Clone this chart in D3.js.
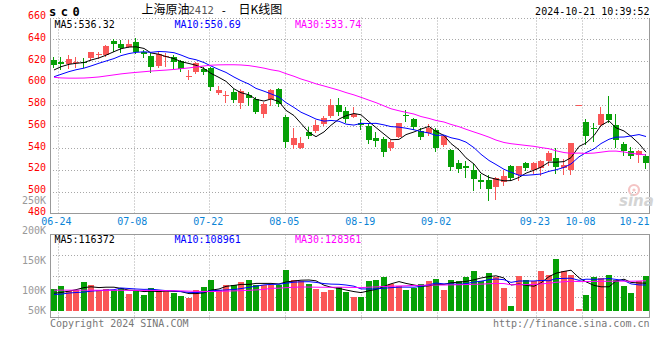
<!DOCTYPE html>
<html><head><meta charset="utf-8">
<script src="https://cdn.jsdelivr.net/npm/d3@7"></script>
<style>body{margin:0;background:#fff}svg{display:block}</style>
</head><body><svg id="c" width="660" height="360"></svg>
<script>
// ---- data ----
const dates = ["06-21","06-24","06-25","06-26","06-27","06-28","07-01","07-02","07-03","07-04","07-05",
"07-08","07-09","07-10","07-11","07-12","07-15","07-16","07-17","07-18","07-19",
"07-22","07-23","07-24","07-25","07-26","07-29","07-30","07-31","08-01","08-02",
"08-05","08-06","08-07","08-08","08-09","08-12","08-13","08-14","08-15","08-16",
"08-19","08-20","08-21","08-22","08-23","08-26","08-27","08-28","08-29","08-30",
"09-02","09-03","09-04","09-05","09-06","09-09","09-10","09-11","09-12","09-13",
"09-18","09-19","09-20","09-23","09-24","09-25","09-26","09-27","09-30",
"10-08","10-09","10-10","10-11","10-14","10-15","10-16","10-17","10-18","10-21"];
const openP = [621.2,619.4,617.0,619.0,619.0,623.1,626.2,625.6,638.7,635.7,
 633.2,637.2,628.6,624.9,615.5,624.5,623.7,620.0,606.0,610.2,
 612.5,613.9,591.0,588.0,591.9,581.8,588.8,585.0,571.0,584.9,
 594.0,568.3,542.9,540.3,555.1,555.8,562.0,569.2,579.2,574.4,
 568.9,563.0,560.4,549.2,548.1,539.9,550.5,570.2,566.5,556.0,
 553.7,556.7,543.2,538.3,526.6,523.6,520.0,511.2,511.1,504.3,
 509.2,523.7,515.0,526.3,519.9,522.0,528.4,531.2,521.5,520.0,
 579.2,564.3,558.1,561.3,571.4,561.3,543.8,537.7,533.7,533.1];
const highP = [624.0,623.4,625.6,623.4,623.0,628.6,628.6,634.7,640.0,639.3,
 639.3,641.0,630.0,627.1,628.6,627.0,625.6,621.0,611.8,619.4,
 614.8,614.8,597.3,592.6,594.1,594.2,591.5,586.8,582.7,594.6,
 595.0,570.5,558.2,550.5,559.5,565.9,569.8,585.0,585.8,578.1,
 577.8,566.7,562.8,554.6,550.5,547.5,563.4,574.7,567.4,558.2,
 561.8,558.2,552.5,539.0,529.1,528.5,525.2,516.3,515.4,513.8,
 519.6,525.0,523.7,527.6,527.6,529.5,537.1,540.0,530.5,545.0,
 579.4,566.5,563.1,578.1,588.3,571.4,546.0,541.3,538.3,534.4];
const lowP = [614.3,612.4,614.0,614.8,615.0,621.0,622.5,625.0,629.5,628.0,
 633.0,627.0,624.0,610.0,614.8,615.7,614.0,611.0,603.5,609.3,
 607.8,593.4,590.0,582.3,582.0,577.2,579.3,572.0,568.6,580.0,
 578.7,541.3,539.9,539.9,549.5,554.6,561.3,568.6,570.8,564.3,
 568.3,557.2,544.3,542.0,532.8,538.3,550.0,565.1,557.3,548.4,
 552.5,537.7,542.0,519.6,518.4,513.8,501.6,503.1,492.0,493.1,
 506.2,511.1,511.1,519.8,517.1,515.0,524.8,517.0,516.0,516.0,
 579.2,543.8,546.8,560.6,563.8,541.5,533.7,530.7,527.0,522.0];
const closeP = [616.6,617.0,621.6,619.5,618.5,628.0,626.8,634.1,635.7,632.0,
 635.7,628.0,626.5,614.8,626.3,625.0,618.7,612.5,606.3,618.2,
 610.0,596.4,593.8,588.5,583.8,592.2,586.5,573.0,580.9,593.4,
 580.4,545.9,549.0,545.0,551.3,561.6,567.7,579.6,573.5,566.6,
 571.7,561.7,547.6,546.9,536.8,546.0,562.8,569.7,559.2,550.0,
 558.2,539.9,550.8,522.3,521.2,521.5,511.4,509.1,502.5,513.0,
 514.0,512.6,523.5,522.2,526.5,527.8,536.0,523.0,525.0,544.5,
 579.4,551.5,557.5,571.0,565.9,547.5,537.0,533.1,537.4,526.6];
const volume = [91900,104700,83500,87800,121700,108900,87800,91900,87800,96200,
 70800,83500,66600,96200,87800,83500,75000,62300,53800,87800,
 100500,130100,87800,108900,108900,121700,130100,108900,108900,108900,
 108900,172500,130100,125800,113100,91900,79200,87800,100500,79200,
 58000,58000,125800,130100,142800,113100,104700,87800,96200,113100,
 125800,134300,87800,130100,125800,142800,168200,125800,159700,142800,
 96200,19900,146900,130100,125800,168200,151200,218900,168200,151200,
 7200,66600,142800,138500,151200,130100,104700,75000,125800,146900];
// moving-average values before enough history exists
const ma5Lead = [611.8,614.8,617.0,617.9];
const ma10Lead = [605.6,607.8,610.3,612.0,613.5,615.5,618.0,620.0,622.3];
const ma30Lead = [605.1,604.5,604.3,604.3,604.4,604.8,605.4,606.3,607.3,608.2,609.0,609.6,610.2,610.8,611.3,
 611.7,612.3,613.0,613.7,614.6,615.5,616.2,616.5,616.6,616.6,616.4,615.8,614.8,613.5];
const vma5Lead = [74000,77000,83000,89000];
const vma10Lead = [69000,70000,75000,77000,79000,83000,85000,87000,89000];
const vma30Lead = [87000,87000,87000,87000,86800,86800,86600,86500,86500,86500,86300,86000,86000,85800,85500,
 85000,84500,84000,83000,82000,81500,81000,82000,83000,84000,85000,86500,88000,90000];
const priceTicks = [480,500,520,540,560,580,600,620,640,660];
const volTicks = [50000,100000,150000,200000,250000];
const volTickLabels = ["50K","100K","150K","200K","250K"];
const dateTicks = ["06-24","07-08","07-22","08-05","08-19","09-02","09-23","10-08","10-21"];
const priceLegend = ["MA5:536.32","MA10:550.69","MA30:533.74"];
const volLegend = ["MA5:116372","MA10:108961","MA30:128361"];
const legendColors = ["#000000","#0000ff","#ff00ff"];

// ---- layout ----
const svg = d3.select('#c');
const L = 50, R = 650, pTop = 17.5, pBot = 213.5, vTop = 234.5, vBot = 317.5, vBase = 310.7;
const N = closeP.length;
const mono = "'DejaVu Sans Mono', monospace";
const UP = "#fa5757", DN = "#06a006", GRID = "#a8a8a8", FRAME = "#999";

const xb = d3.scaleBand().domain(d3.range(N)).range([L, R]).paddingInner(0.2).paddingOuter(0.1);
const xg = d3.scaleLinear().domain([0, N - 1]).range([L, R]);
const yP = d3.scaleLinear().domain([480, 660]).range([pBot, pTop]);
const yV = d3.scaleLinear().domain([0, 325000]).range([vBase, 234]);
const yVL = d3.scaleLinear().domain([0, 250000]).range([354, 204]);

function ma(vals, n, lead) {
  return vals.map((v, i) => i < n - 1 ? lead[i] : d3.mean(vals.slice(i - n + 1, i + 1)));
}
const bx = i => Math.round(xb(i));
const cx = i => bx(i) + 3;
const isUp = i => closeP[i] >= openP[i];

// ---- grids ----
const g = svg.append('g');
// horizontal price grid
g.selectAll('.hp').data(priceTicks.filter(t => t !== 480)).enter().append('line')
  .attr('x1', L).attr('x2', R - 0.5)
  .attr('y1', d => Math.round(yP(d)) + 0.5).attr('y2', d => Math.round(yP(d)) + 0.5)
  .attr('stroke', GRID).attr('stroke-dasharray', '1,2');
// volume grid quarter lines
g.selectAll('.hv').data([1, 2, 3]).enter().append('line')
  .attr('x1', L).attr('x2', R - 0.5)
  .attr('y1', d => Math.round(vTop + (vBot - vTop) * d / 4) + 0.5)
  .attr('y2', d => Math.round(vTop + (vBot - vTop) * d / 4) + 0.5)
  .attr('stroke', GRID).attr('stroke-dasharray', '1,2');
// vertical grids
const tickIdx = dateTicks.map(d => dates.indexOf(d));
const vIdx = tickIdx.filter(i => i < N - 1);
g.selectAll('.vp').data(vIdx).enter().append('line')
  .attr('x1', i => Math.round(xg(i)) + 0.5).attr('x2', i => Math.round(xg(i)) + 0.5)
  .attr('y1', pTop).attr('y2', pBot)
  .attr('stroke', GRID).attr('stroke-dasharray', '1,2');
g.selectAll('.vv').data(vIdx).enter().append('line')
  .attr('x1', i => Math.round(xg(i)) + 0.5).attr('x2', i => Math.round(xg(i)) + 0.5)
  .attr('y1', vTop).attr('y2', vBot + 4)
  .attr('stroke', GRID).attr('stroke-dasharray', '1,2');

// frames
const fr = svg.append('g').attr('stroke', FRAME).attr('fill', 'none').attr('shape-rendering', 'crispEdges');
fr.append('path').attr('d', `M${L + 0.5},${pTop}V${pBot}H${R - 0.5}V${pTop}`);
fr.append('rect').attr('x', L + 0.5).attr('y', vTop).attr('width', R - L - 1).attr('height', vBot - vTop);

// watermark
const wm = svg.append('g');
wm.append('circle').attr('cx', 634).attr('cy', 190).attr('r', 5).attr('fill', 'none')
  .attr('stroke', '#f4c4c4').attr('stroke-width', 2.2);
wm.append('circle').attr('cx', 634).attr('cy', 190).attr('r', 1.6).attr('fill', '#f4c4c4');
wm.append('text').attr('x', 619).attr('y', 206).text('sina')
  .attr('font-family', "'DejaVu Sans', sans-serif").attr('font-weight', 'bold').attr('font-style', 'italic')
  .attr('font-size', 15).attr('fill', '#d4d4d4');

// ---- candles ----
const cg = svg.append('g').attr('shape-rendering', 'crispEdges');
cg.selectAll('.wick').data(d3.range(N)).enter().append('line')
  .attr('x1', i => bx(i) + 2.5).attr('x2', i => bx(i) + 2.5)
  .attr('y1', i => Math.round(yP(highP[i]))).attr('y2', i => Math.round(yP(lowP[i])) + 1)
  .attr('stroke', i => isUp(i) ? UP : DN);
cg.selectAll('.body').data(d3.range(N)).enter().append('rect')
  .attr('x', i => bx(i)).attr('width', Math.round(xb.bandwidth()))
  .attr('y', i => Math.round(yP(Math.max(openP[i], closeP[i]))))
  .attr('height', i => Math.max(1, Math.round(yP(Math.min(openP[i], closeP[i]))) - Math.round(yP(Math.max(openP[i], closeP[i])))))
  .attr('fill', i => isUp(i) ? UP : DN);

// price MAs
const pMA = [ma(closeP, 5, ma5Lead), ma(closeP, 10, ma10Lead), ma(closeP, 30, ma30Lead)];
const lineP = d3.line().x((d, i) => cx(i)).y(d => yP(d));
pMA.forEach((s, k) => svg.append('path').attr('d', lineP(s)).attr('fill', 'none')
  .attr('stroke', legendColors[k]).attr('stroke-width', 1));

// ---- volume ----
const vg = svg.append('g').attr('shape-rendering', 'crispEdges');
vg.selectAll('.vb').data(d3.range(N)).enter().append('rect')
  .attr('x', i => bx(i)).attr('width', Math.round(xb.bandwidth()))
  .attr('y', i => Math.round(yV(volume[i])))
  .attr('height', i => Math.max(1, Math.round(yV(0)) - Math.round(yV(volume[i]))))
  .attr('fill', i => isUp(i) ? UP : DN);
const vMA = [ma(volume, 5, vma5Lead), ma(volume, 10, vma10Lead), ma(volume, 30, vma30Lead)];
const lineV = d3.line().x((d, i) => cx(i)).y(d => yV(d));
vMA.forEach((s, k) => svg.append('path').attr('d', lineV(s)).attr('fill', 'none')
  .attr('stroke', legendColors[k]).attr('stroke-width', 1));

// ---- text ----
const tx = svg.append('g').attr('font-family', mono).attr('font-size', 10);
tx.selectAll('.pl').data(priceTicks).enter().append('text')
  .attr('x', 46).attr('y', d => yP(d) + 1.5).attr('text-anchor', 'end')
  .attr('fill', '#f00').text(d => d);
tx.selectAll('.vl').data(volTicks).enter().append('text')
  .attr('x', 46).attr('y', d => Math.min(yVL(d), 314)).attr('text-anchor', 'end')
  .attr('fill', '#999').text((d, i) => volTickLabels[i]);
tx.selectAll('.dl').data(tickIdx).enter().append('text')
  .attr('x', (i, k) => k === tickIdx.length - 1 ? R - 0.5 : xg(i) - 1.2)
  .attr('y', 225).attr('text-anchor', (i, k) => k === tickIdx.length - 1 ? 'end' : 'middle')
  .attr('fill', '#0a84d6').text((i, k) => dateTicks[k]);
const legX = [54.5, 174.5, 295];
tx.selectAll('.lp').data(priceLegend).enter().append('text')
  .attr('x', (d, i) => legX[i]).attr('y', 27.5).attr('fill', (d, i) => legendColors[i]).text(d => d);
tx.selectAll('.lv').data(volLegend).enter().append('text')
  .attr('x', (d, i) => legX[i]).attr('y', 242.5).attr('fill', (d, i) => legendColors[i]).text(d => d);
tx.append('text').attr('x', R - 0.5).attr('y', 15).attr('text-anchor', 'end').attr('fill', '#000')
  .text('2024-10-21 10:39:52');
tx.append('text').attr('x', L).attr('y', 326.5).attr('fill', '#777').text('Copyright 2024 SINA.COM');
tx.append('text').attr('x', R - 0.5).attr('y', 326.5).attr('text-anchor', 'end').attr('fill', '#777')
  .text('http://finance.sina.com.cn');

svg.append('text').attr('x', 49).attr('y', 16).text('sc0')
  .attr('font-family', mono).attr('font-weight', 'bold').attr('font-size', 12)
  .attr('letter-spacing', 4.5).attr('fill', '#000');
const cjk = "'Noto Sans CJK SC', sans-serif";
svg.append('text').attr('x', 141.5).attr('y', 14).attr('font-family', cjk).attr('font-size', 12).text('上海原油');
svg.append('text').attr('x', 188.5).attr('y', 14).attr('font-family', mono).attr('font-size', 10.5)
  .attr('fill', '#555').text('2412');
svg.append('text').attr('x', 220.5).attr('y', 14).attr('font-family', mono).attr('font-size', 11).text('-');
svg.append('text').attr('x', 238.5).attr('y', 14).attr('font-family', cjk).attr('font-size', 12).text('日K线图');
</script></body></html>
